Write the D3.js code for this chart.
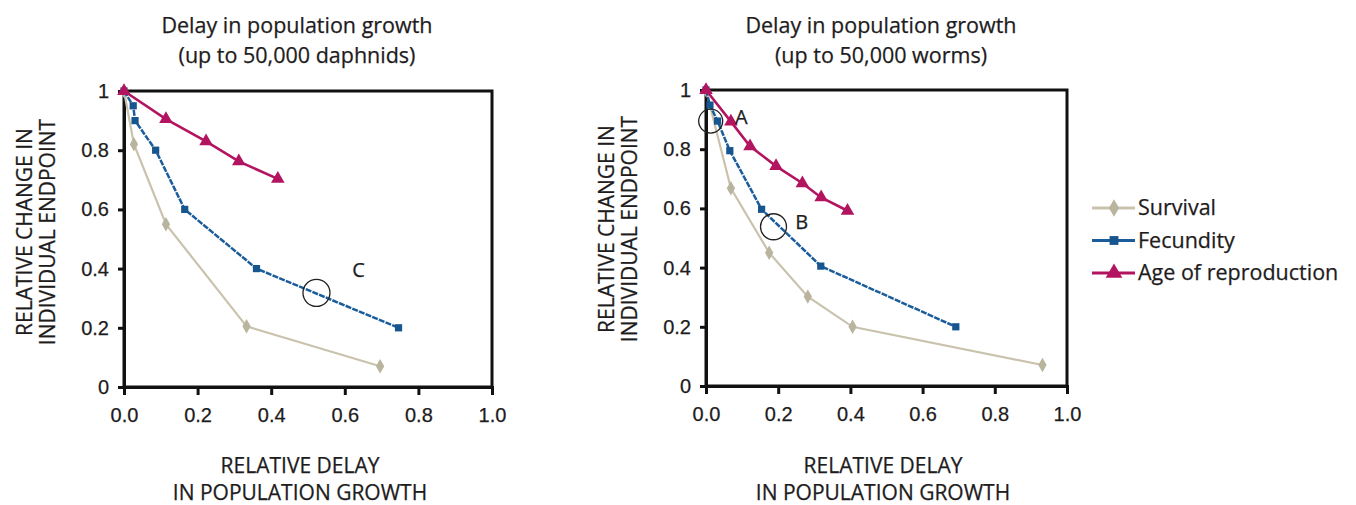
<!DOCTYPE html>
<html>
<head>
<meta charset="utf-8">
<script src="https://cdn.jsdelivr.net/npm/d3@7"></script>
<style>
  body { margin: 0; background: #fff; }
  svg { display: block; font-family: "Open Sans", "Noto Sans", sans-serif; }
  svg text { stroke: #1e1c1d; stroke-width: 0.25px; }
</style>
</head>
<body>
<svg id="chart" width="1356" height="505"></svg>
<script>
// Data: [relative delay, relative change]
const daphSurvival = [[0, 1], [0.027, 0.82], [0.114, 0.55], [0.333, 0.205], [0.696, 0.07]];
const daphFecundity = [[0, 1], [0.025, 0.95], [0.03, 0.9], [0.086, 0.8], [0.165, 0.6], [0.36, 0.4], [0.746, 0.2]];
const daphAge = [[0, 1], [0.114, 0.905], [0.223, 0.83], [0.312, 0.762], [0.418, 0.703]];

const wormSurvival = [[0, 1], [0.069, 0.668], [0.175, 0.45], [0.282, 0.302], [0.406, 0.2], [0.932, 0.071]];
const wormFecundity = [[0, 1], [0.011, 0.949], [0.032, 0.895], [0.066, 0.795], [0.154, 0.597], [0.318, 0.405], [0.692, 0.2]];
const wormAge = [[0, 1], [0.069, 0.893], [0.122, 0.81], [0.194, 0.743], [0.267, 0.685], [0.319, 0.637], [0.392, 0.592]];

const xTicks = [0, 0.2, 0.4, 0.6, 0.8, 1.0];
const yTicks = [0, 0.2, 0.4, 0.6, 0.8, 1];
const seriesNames = ["Survival", "Fecundity", "Age of reproduction"];

// circled points: circle centre [x, y], label anchor [x, y], label
const daphCircles = [{ at: [0.523, 0.318], label: [0.62, 0.372], text: "C", r: 13.5 }];
const wormCircles = [
  { at: [0.013, 0.895], label: [0.08, 0.885], text: "A", r: 12 },
  { at: [0.187, 0.538], label: [0.247, 0.53], text: "B", r: 13 }
];

const styles = {
  "Survival": { color: "#c9c3ae", marker: "#b9b49d", symbol: d3.symbolDiamond, size: 60, dash: null, width: 2.2 },
  "Fecundity": { color: "#1b5d9b", marker: "#17558f", symbol: d3.symbolSquare, size: 52, dash: "6,1.2", width: 2.5 },
  "Age of reproduction": { color: "#b3145f", marker: "#b3145f", symbol: d3.symbolTriangle, size: 80, dash: null, width: 2.6 }
};

const textColor = "#1e1c1d";
const svg = d3.select("#chart");

function drawPanel(opts) {
  const x = d3.scaleLinear().domain([0, 1]).range([opts.left, opts.right]);
  const y = d3.scaleLinear().domain([0, 1]).range([opts.bottom, opts.top]);
  const g = svg.append("g");

  // frame: top and right borders
  g.append("rect")
    .attr("x", opts.left).attr("y", opts.top)
    .attr("width", opts.right - opts.left).attr("height", opts.bottom - opts.top)
    .attr("fill", "none").attr("stroke", "#111").attr("stroke-width", 3);

  const xAxis = g.append("g")
    .attr("transform", `translate(0,${opts.bottom})`)
    .call(d3.axisBottom(x).tickValues(xTicks).tickFormat(d3.format(".1f")).tickSize(8).tickPadding(13));
  const yAxis = g.append("g")
    .attr("transform", `translate(${opts.left},0)`)
    .call(d3.axisLeft(y).tickValues(yTicks).tickFormat(d => d === 0 || d === 1 ? d : d3.format(".1f")(d)).tickSize(6).tickPadding(9));

  [xAxis, yAxis].forEach(a => {
    a.select(".domain").attr("stroke", "#111").attr("stroke-width", 3);
    a.selectAll(".tick line").attr("stroke", "#111").attr("stroke-width", 3);
    a.selectAll(".tick text").attr("fill", textColor).style("font-size", "20px").attr("font-family", null);
  });

  const line = d3.line().x(d => x(d[0])).y(d => y(d[1]));

  opts.series.forEach((data, i) => {
    const s = styles[seriesNames[i]];
    g.append("path")
      .attr("d", line(data))
      .attr("fill", "none")
      .attr("stroke", s.color)
      .attr("stroke-width", s.width)
      .attr("stroke-dasharray", s.dash);
    g.selectAll(null)
      .data(data)
      .join("path")
      .attr("transform", d => `translate(${x(d[0])},${y(d[1])})`)
      .attr("d", d3.symbol().type(s.symbol).size(s.size))
      .attr("fill", s.marker);
  });

  opts.circles.forEach(c => {
    g.append("circle")
      .attr("cx", x(c.at[0])).attr("cy", y(c.at[1])).attr("r", c.r)
      .attr("fill", "none").attr("stroke", "#222").attr("stroke-width", 1.3);
    g.append("text")
      .attr("x", x(c.label[0])).attr("y", y(c.label[1]))
      .attr("fill", textColor).style("font-size", "20px")
      .text(c.text);
  });

  // titles
  const title = g.append("text")
    .attr("text-anchor", "middle")
    .attr("fill", textColor).style("font-size", "21.5px");
  title.append("tspan").attr("x", opts.titleX).attr("y", 33).text("Delay in population growth");
  title.append("tspan").attr("x", opts.titleX).attr("y", 63).text(opts.subtitle);

  // x axis title
  const xt = g.append("text")
    .attr("text-anchor", "middle").attr("fill", textColor).style("font-size", "21px");
  xt.append("tspan").attr("x", opts.xTitleX).attr("y", 473).text("RELATIVE DELAY");
  xt.append("tspan").attr("x", opts.xTitleX).attr("y", 500).text("IN POPULATION GROWTH");

  // y axis title
  const yt = g.append("text")
    .attr("transform", `translate(${opts.left - 92},${opts.yTitleY}) rotate(-90)`)
    .attr("text-anchor", "middle").attr("fill", textColor).style("font-size", "21px");
  yt.append("tspan").attr("x", 0).attr("y", 0).text("RELATIVE CHANGE IN");
  yt.append("tspan").attr("x", 0).attr("y", 23).text("INDIVIDUAL ENDPOINT");
}

drawPanel({
  left: 124, right: 492, top: 91, bottom: 387,
  titleX: 297, xTitleX: 300, yTitleY: 232, subtitle: "(up to 50,000 daphnids)",
  series: [daphSurvival, daphFecundity, daphAge],
  circles: daphCircles
});

drawPanel({
  left: 706, right: 1067, top: 90, bottom: 386,
  titleX: 881, xTitleX: 883, yTitleY: 229, subtitle: "(up to 50,000 worms)",
  series: [wormSurvival, wormFecundity, wormAge],
  circles: wormCircles
});

// legend
const legend = svg.append("g").attr("transform", "translate(1092,208)");
seriesNames.forEach((name, i) => {
  const s = styles[name];
  const row = legend.append("g").attr("transform", `translate(0,${i * 32.5})`);
  row.append("line").attr("x1", 0).attr("x2", 43).attr("y1", 0).attr("y2", 0)
    .attr("stroke", s.color).attr("stroke-width", 3);
  row.append("path")
    .attr("transform", "translate(22,0)")
    .attr("d", d3.symbol().type(s.symbol).size(s.size * 1.5))
    .attr("fill", s.marker);
  row.append("text").attr("x", 46).attr("y", 7)
    .attr("fill", textColor).style("font-size", "21.5px").text(name);
});
</script>
</body>
</html>
